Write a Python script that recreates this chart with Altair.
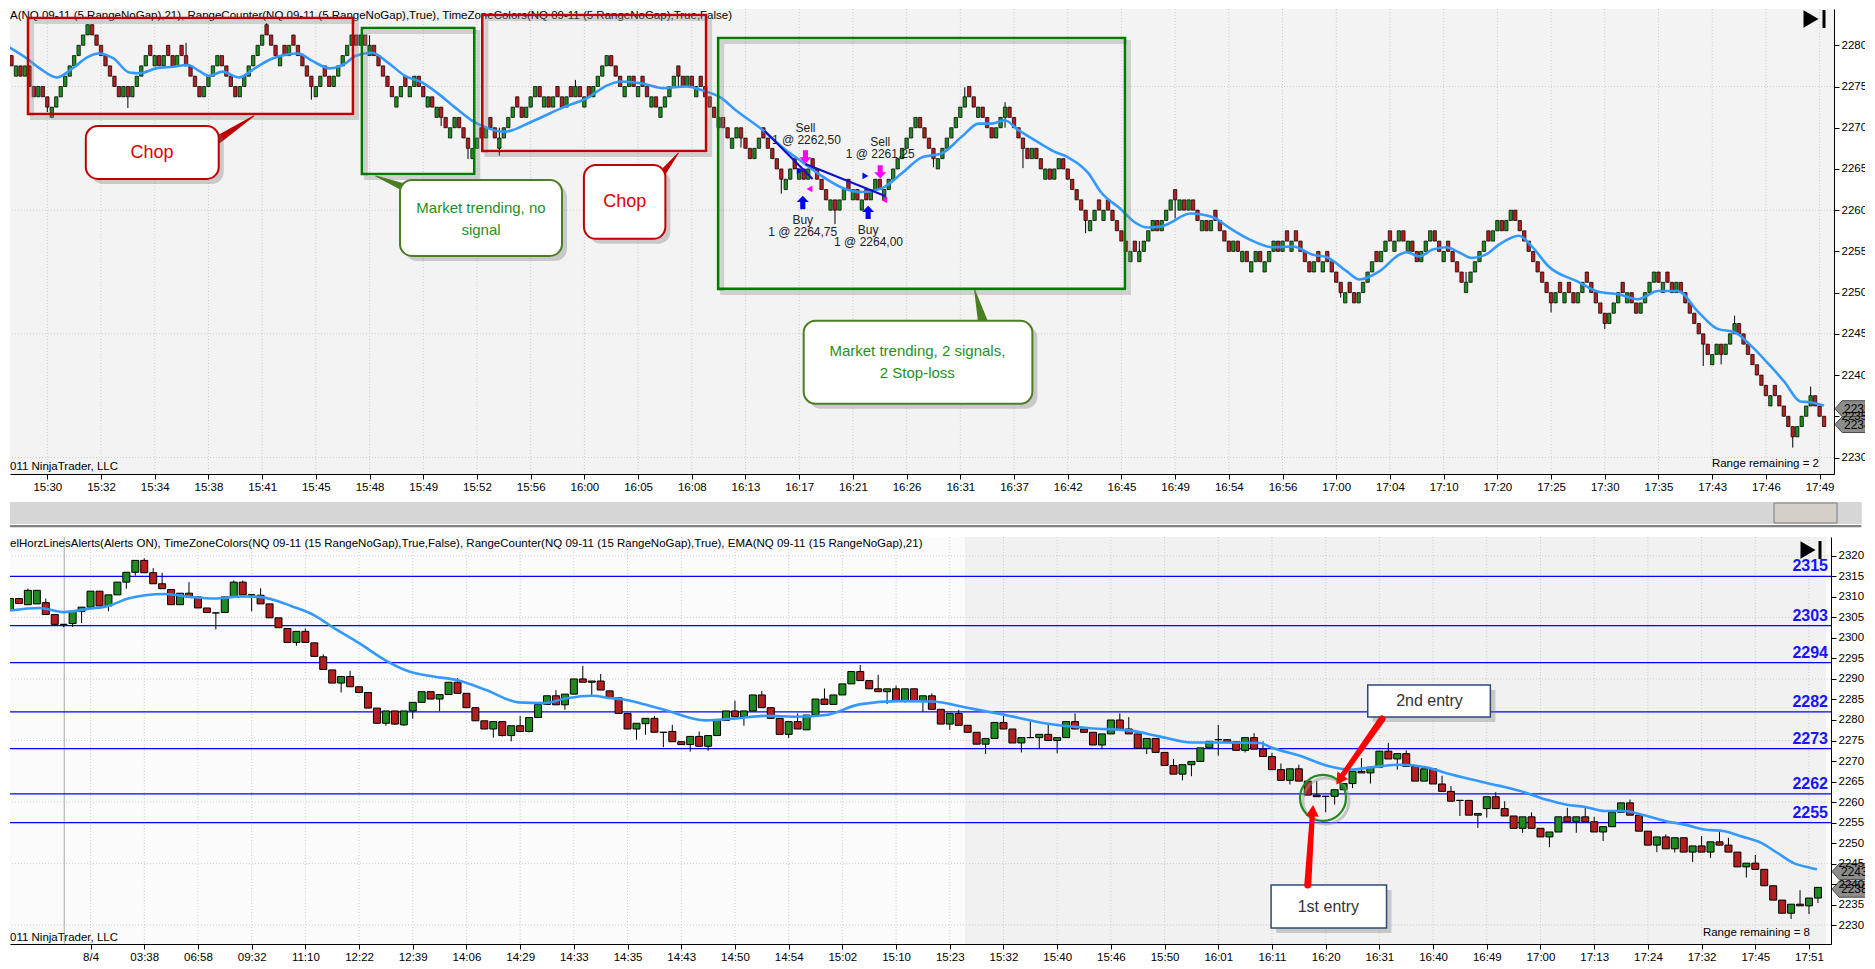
import json
import altair as alt
import pandas as pd

FONT = "Liberation Sans"
GREEN = "#1f8a1f"
RED = "#b41e1e"
EMA_BLUE = "#3399ff"

# ---------------------------------------------------------------- top panel data (5 RangeNoGap)
top_first_open = 2280.0
top_close = [
    2278.75, 2277.5, 2277.5, 2276.25, 2277.5, 2275, 2273.75, 2275, 2273.75, 2272.5,
    2272.5, 2273.75, 2275, 2276.25, 2277.5, 2278.75, 2280, 2281.25, 2282.5, 2281.25,
    2280, 2278.75, 2277.5, 2276.25, 2275, 2273.75, 2275, 2273.75, 2275, 2276.25,
    2277.5, 2278.75, 2278.75, 2278.75, 2277.5, 2278.75, 2278.75, 2277.5, 2278.75, 2278.75,
    2277.5, 2276.25, 2275, 2273.75, 2275, 2276.25, 2277.5, 2278.75, 2277.5, 2276.25,
    2275, 2273.75, 2275, 2276.25, 2277.5, 2278.75, 2280, 2281.25, 2281.25, 2280,
    2278.75, 2278.75, 2278.75, 2280, 2280, 2278.75, 2277.5, 2276.25, 2275, 2275,
    2276.25, 2276.25, 2275, 2276.25, 2277.5, 2278.75, 2280, 2281.25, 2280, 2281.25,
    2280, 2280, 2278.75, 2277.5, 2276.25, 2275, 2273.75, 2273.75, 2275, 2275,
    2275, 2276.25, 2275, 2273.75, 2273.75, 2272.5, 2272.5, 2271.25, 2270, 2270,
    2271.25, 2270, 2268.75, 2267.5, 2267.5, 2268.75, 2268.75, 2270, 2270, 2268.75,
    2268.75, 2270, 2271.25, 2272.5, 2272.5, 2271.25, 2272.5, 2273.75, 2275, 2273.75,
    2273.75, 2272.5, 2273.75, 2273.75, 2272.5, 2273.75, 2273.75, 2275, 2273.75, 2273.75,
    2273.75, 2275, 2276.25, 2277.5, 2278.75, 2277.5, 2276.25, 2275, 2275, 2276.25,
    2275, 2275, 2275, 2273.75, 2273.75, 2272.5, 2272.5, 2273.75, 2275, 2276.25,
    2276.25, 2275, 2276.25, 2275, 2275, 2275, 2273.75, 2272.5, 2271.25, 2271.25,
    2270, 2268.75, 2268.75, 2270, 2268.75, 2267.5, 2266.25, 2267.5, 2268.75, 2268.75,
    2267.5, 2266.25, 2265, 2263.75, 2263.75, 2265, 2265, 2265, 2263.75, 2265,
    2265, 2263.75, 2262.5, 2261.25, 2261.25, 2260, 2261.25, 2262.5, 2262.5, 2262.5,
    2261.25, 2261.25, 2261.25, 2262.5, 2263.75, 2262.5, 2262.5, 2263.75, 2265, 2266.25,
    2267.5, 2268.75, 2270, 2271.25, 2270, 2268.75, 2267.5, 2266.25, 2266.25, 2267.5,
    2268.75, 2270, 2271.25, 2272.5, 2273.75, 2273.75, 2272.5, 2272.5, 2271.25, 2270,
    2268.75, 2270, 2271.25, 2272.5, 2271.25, 2270, 2268.75, 2267.5, 2266.25, 2267.5,
    2266.25, 2265, 2265, 2263.75, 2265, 2266.25, 2265, 2263.75, 2262.5, 2261.25,
    2260, 2258.75, 2258.75, 2260, 2260, 2260, 2260, 2258.75, 2257.5, 2256.25,
    2255, 2255, 2255, 2255, 2256.25, 2257.5, 2258.75, 2257.5, 2258.75, 2260,
    2261.25, 2261.25, 2261.25, 2260, 2261.25, 2260, 2258.75, 2258.75, 2257.5, 2258.75,
    2258.75, 2257.5, 2256.25, 2255, 2256.25, 2255, 2255, 2253.75, 2253.75, 2255,
    2253.75, 2253.75, 2255, 2256.25, 2255, 2256.25, 2256.25, 2256.25, 2256.25, 2255,
    2253.75, 2252.5, 2253.75, 2253.75, 2253.75, 2253.75, 2252.5, 2251.25, 2250, 2250,
    2250, 2248.75, 2250, 2251.25, 2252.5, 2253.75, 2253.75, 2255, 2256.25, 2256.25,
    2256.25, 2257.5, 2256.25, 2256.25, 2255, 2253.75, 2255, 2256.25, 2257.5, 2256.25,
    2255, 2255, 2255, 2253.75, 2252.5, 2251.25, 2251.25, 2252.5, 2253.75, 2255,
    2256.25, 2256.25, 2257.5, 2258.75, 2257.5, 2258.75, 2260, 2258.75, 2257.5, 2256.25,
    2255, 2253.75, 2252.5, 2251.25, 2250, 2248.75, 2250, 2250, 2250, 2250,
    2248.75, 2250, 2251.25, 2251.25, 2250, 2248.75, 2247.5, 2246.25, 2247.5, 2248.75,
    2250, 2250, 2250, 2248.75, 2247.5, 2248.75, 2250, 2251.25, 2252.5, 2251.25,
    2251.25, 2251.25, 2250, 2251.25, 2250, 2248.75, 2247.5, 2246.25, 2245, 2243.75,
    2242.5, 2242.5, 2243.75, 2242.5, 2243.75, 2245, 2246.25, 2245, 2243.75, 2242.5,
    2241.25, 2240, 2238.75, 2237.5, 2237.5, 2237.5, 2236.25, 2235, 2233.75, 2232.5,
    2233.75, 2235, 2236.25, 2237.5, 2236.25, 2235, 2233.75,
]
# (bar, low, high) of the visible shadows
top_wicks = [
    (9, 2271.9, 2273.75), (27, 2272.4, 2275.0), (40, 2277.5, 2280.3), (58, 2281.25, 2282.7),
    (68, 2273.4, 2276.25), (81, 2278.75, 2281.2), (97, 2270.2, 2272.5), (103, 2266.2, 2268.75),
    (110, 2266.6, 2270.0), (127, 2273.75, 2275.8), (150, 2275.0, 2277.3), (164, 2267.6, 2270.0),
    (173, 2262.0, 2265.0), (185, 2258.3, 2261.25), (207, 2265.2, 2267.5), (214, 2272.5, 2274.9),
    (223, 2270.0, 2273.1), (227, 2265.1, 2267.5), (241, 2257.2, 2260.0), (253, 2253.9, 2256.25),
    (261, 2259.0, 2262.0), (298, 2249.4, 2251.25), (326, 2250.1, 2252.5), (345, 2247.6, 2250.0),
    (357, 2245.6, 2247.5), (379, 2241.1, 2245.0), (383, 2241.3, 2243.75), (386, 2245.0, 2247.2),
    (399, 2231.2, 2233.75), (403, 2236.25, 2238.6),
]
# EMA(21): (bar position, value)
top_ema = [
    (0, 2279.9), (4.4, 2278.4), (7.3, 2277.2), (11.1, 2276.1), (14.9, 2277.3), (17.8, 2278.5),
    (20.4, 2279.0), (23.8, 2278.4), (27.3, 2276.7), (29.6, 2276.6), (33.3, 2277.2), (37.1, 2277.4),
    (40.4, 2277.6), (42.9, 2276.9), (45.1, 2276.3), (48.2, 2276.8), (51.8, 2276.1), (55.6, 2277.3),
    (59.3, 2278.4), (65.1, 2279.0), (68.2, 2278.1), (72.2, 2277.2), (75.6, 2277.8), (77.8, 2278.7),
    (81.6, 2279.1), (85.1, 2277.9), (88.9, 2276.3), (92.7, 2275.5), (96.2, 2274.2), (100, 2272.5),
    (103.8, 2270.9), (106.7, 2270.1), (111.1, 2269.5), (117.1, 2270.7), (124.4, 2272.5), (129.6, 2273.6),
    (134, 2275.1), (137.1, 2275.6), (141.6, 2275.4), (146.7, 2274.8), (151.8, 2275.0), (155.6, 2274.5),
    (159.3, 2273.7), (162.9, 2272.1), (168.9, 2269.7), (174, 2267.3), (177.8, 2265.8), (181.6, 2264.3),
    (186.7, 2262.7), (191.1, 2262.2), (195.6, 2262.7), (200, 2264.5), (204.4, 2266.4), (208.9, 2266.9),
    (213.3, 2268.9), (217.1, 2270.5), (220, 2270.5), (222.9, 2270.9), (226, 2269.7), (229.6, 2268.5),
    (234, 2267.1), (237.1, 2266.4), (241.6, 2264.5), (244.4, 2262.2), (248.9, 2260.1), (251.8, 2258.6),
    (254.9, 2257.9), (257.8, 2258.0), (259.3, 2258.3), (264.4, 2259.6), (269.6, 2259.1), (272.7, 2258.0),
    (277.8, 2256.4), (282.9, 2255.5), (287.3, 2255.6), (291.8, 2254.6), (294.9, 2254.3), (299.3, 2252.6),
    (302.2, 2251.6), (306.7, 2252.6), (311.1, 2254.6), (312.7, 2254.9), (315.6, 2254.4), (318.4, 2255.2),
    (321.6, 2255.5), (324.4, 2254.9), (327.3, 2254.2), (330.4, 2254.6), (333.3, 2255.8), (337.8, 2256.9),
    (340.7, 2255.6), (344.4, 2253.2), (351.1, 2251.3), (355.6, 2250.1), (360, 2249.8), (364.4, 2249.2),
    (368.9, 2250.2), (373.3, 2250.2), (377.8, 2247.7), (382.2, 2245.6), (386, 2245.2), (389.6, 2243.6),
    (394, 2241.1), (397.1, 2239.2), (400.7, 2236.8), (402.9, 2236.7), (406, 2236.3),
]
top_time_labels = ["15:30", "15:32", "15:34", "15:38", "15:41", "15:45", "15:48", "15:49", "15:52",
                   "15:56", "16:00", "16:05", "16:08", "16:13", "16:17", "16:21", "16:26", "16:31",
                   "16:37", "16:42", "16:45", "16:49", "16:54", "16:56", "17:00", "17:04", "17:10",
                   "17:20", "17:25", "17:30", "17:35", "17:43", "17:46", "17:49"]
top_grid_levels = [2230, 2245, 2260, 2275]
TOP_TITLE = ("A(NQ 09-11 (5 RangeNoGap),21), RangeCounter(NQ 09-11 (5 RangeNoGap),True), "
             "TimeZoneColors(NQ 09-11 (5 RangeNoGap),True,False)")

# annotation rectangles: bar from/to, price from/to
box_i0 = [4.7, 79.3, 106.2, 158.9]
box_i1 = [77.3, 104.4, 156.2, 249.8]
box_p0 = [2271.67, 2264.39, 2267.18, 2250.45]
box_p1 = [2283.30, 2282.09, 2283.67, 2280.88]
box_col = ["#c00000", "#007a00", "#c00000", "#007a00"]

call_i0 = [17.6, 87.8, 128.9, 178.0]
call_i1 = [47.3, 124.0, 147.1, 229.1]
call_p0 = [2263.79, 2254.45, 2256.52, 2236.52]
call_p1 = [2270.21, 2263.67, 2265.48, 2246.58]
call_col = ["#c00000", "#4b7d23", "#c00000", "#4b7d23"]
call_text = ["Chop", "Market trending, no", "signal", "Chop", "Market trending, 2 signals,", "2 Stop-loss"]
call_text_i = [32.4, 105.9, 105.9, 138.0, 203.4, 203.4]
call_text_p = [2266.94, 2260.3, 2257.6, 2261.0, 2242.9, 2240.2]
call_text_col = ["#e00000", "#1f8f1f", "#1f8f1f", "#e00000", "#1f8f1f", "#1f8f1f"]
call_text_size = [18, 15, 15, 18, 15, 15]
# callout pointers: id, order, bar, price, width
pointers = [
    (0, 0, 46.0, 2268.15, 9), (0, 1, 55.1, 2271.42, 1),
    (1, 0, 90.0, 2262.5, 9), (1, 1, 82.4, 2264.15, 1),
    (2, 0, 145.0, 2263.5, 9), (2, 1, 150.0, 2266.94, 1),
    (3, 0, 218.5, 2245.5, 12), (3, 1, 216.2, 2250.33, 1),
]
pointer_col = ["#c00000", "#4b7d23", "#c00000", "#4b7d23"]

# trades
trade_lines = [(0, 169.3, 2269.61), (0, 180.0, 2263.79), (1, 178.4, 2265.61), (1, 196.2, 2261.73)]
sell_arrows = [(178.4, 2266.45), (195.1, 2264.64)]
buy_arrows = [(177.8, 2260.94), (192.4, 2259.73)]
exit_marks = [(179.3, 2262.58), (196.0, 2261.24)]
entry_marks = [(177.1, 2264.76), (191.8, 2264.15)]
trade_text = ["Sell", "1 @ 2262,50", "Sell", "1 @ 2261,25", "Buy", "1 @ 2264,75", "Buy", "1 @ 2264,00"]
trade_text_i = [178.4, 178.6, 195.1, 195.1, 177.8, 177.8, 192.4, 192.5]
trade_text_p = [2269.97, 2268.52, 2268.27, 2266.82, 2258.82, 2257.36, 2257.61, 2256.15]

# ---------------------------------------------------------------- bottom panel data (15 RangeNoGap)
bot_open = [
    2306.7, 2309.6, 2308.1, 2308.3, 2308.6, 2305.7, 2303.3, 2303.5, 2306.5, 2307.5,
    2311.4, 2307.8, 2310.5, 2313.6, 2316.0, 2318.9, 2315.9, 2313.2, 2311.8, 2308.1,
    2310.9, 2310.0, 2307.3, 2306.1, 2306.2, 2310.0, 2313.6, 2310.5, 2310.4, 2308.3,
    2304.9, 2302.3, 2298.9, 2301.6, 2298.8, 2295.4, 2292.2, 2289.0, 2290.6, 2288.1,
    2286.7, 2282.9, 2279.2, 2282.2, 2278.8, 2282.2, 2284.3, 2286.9, 2285.1, 2286.2,
    2289.2, 2286.5, 2283.0, 2279.8, 2277.8, 2279.6, 2276.2, 2278.6, 2277.2, 2280.6,
    2283.8, 2285.9, 2283.7, 2286.3, 2290.0, 2289.2, 2289.5, 2287.1, 2285.4, 2281.6,
    2277.8, 2279.1, 2280.4, 2277.0, 2277.2, 2274.7, 2274.0, 2276.0, 2273.6, 2276.2,
    2279.9, 2282.2, 2280.8, 2282.2, 2286.1, 2283.0, 2280.4, 2276.5, 2279.6, 2277.6,
    2281.2, 2285.1, 2283.8, 2286.1, 2288.8, 2291.8, 2289.6, 2287.6, 2286.9, 2287.6,
    2284.7, 2287.6, 2284.5, 2285.9, 2282.6, 2279.0, 2281.6, 2278.7, 2277.0, 2274.1,
    2275.5, 2279.4, 2277.8, 2274.4, 2275.7, 2275.7, 2276.5, 2275.0, 2275.7, 2279.6,
    2277.8, 2277.0, 2273.9, 2276.6, 2280.0, 2277.8, 2276.6, 2273.1, 2275.5, 2272.1,
    2268.9, 2266.8, 2269.1, 2269.9, 2273.2, 2275.2, 2275.2, 2274.7, 2272.6, 2275.7,
    2272.9, 2271.1, 2267.9, 2265.3, 2268.1, 2265.1, 2261.7, 2261.4, 2261.4, 2263.0,
    2264.5, 2267.5, 2267.1, 2268.5, 2272.4, 2270.5, 2271.8, 2268.7, 2265.1, 2268.1,
    2264.4, 2262.6, 2260.4, 2260.4, 2256.8, 2258.4, 2261.3, 2258.4, 2256.6, 2253.6,
    2256.4, 2253.6, 2251.5, 2252.7, 2256.4, 2255.2, 2256.4, 2255.2, 2252.7, 2254.0,
    2257.5, 2259.8, 2256.8, 2252.9, 2249.5, 2251.5, 2248.6, 2251.3, 2247.8, 2249.3,
    2247.8, 2250.3, 2249.5, 2247.8, 2244.2, 2245.1, 2243.6, 2239.6, 2236.1, 2232.9,
    2235.1, 2234.7, 2236.6,
]
bot_close = [
    2309.6, 2308.4, 2311.6, 2311.6, 2305.7, 2303.3, 2303.3, 2306.5, 2307.5, 2311.4,
    2307.8, 2310.5, 2313.6, 2316.0, 2318.9, 2315.9, 2313.2, 2312.0, 2308.1, 2310.9,
    2310.0, 2307.3, 2306.2, 2306.1, 2310.0, 2313.6, 2310.5, 2310.5, 2308.3, 2304.9,
    2302.5, 2298.9, 2301.6, 2298.9, 2295.5, 2292.3, 2289.0, 2290.6, 2288.1, 2286.7,
    2282.9, 2279.2, 2282.2, 2279.0, 2282.2, 2284.3, 2286.9, 2285.1, 2286.2, 2289.2,
    2286.5, 2283.0, 2279.8, 2277.8, 2279.6, 2276.2, 2278.6, 2277.2, 2280.6, 2283.8,
    2285.9, 2283.7, 2286.3, 2290.0, 2289.2, 2289.5, 2287.3, 2285.5, 2281.6, 2277.8,
    2279.2, 2280.4, 2277.0, 2277.0, 2274.7, 2274.0, 2276.0, 2273.6, 2276.2, 2279.9,
    2282.2, 2280.8, 2282.2, 2286.1, 2283.0, 2280.4, 2276.5, 2279.6, 2277.8, 2281.2,
    2285.1, 2283.8, 2286.1, 2288.8, 2291.8, 2289.6, 2287.6, 2286.9, 2287.6, 2284.7,
    2287.6, 2284.5, 2285.9, 2282.6, 2279.0, 2281.6, 2278.7, 2277.0, 2274.1, 2275.5,
    2279.4, 2277.8, 2274.4, 2275.7, 2275.7, 2276.5, 2275.0, 2275.7, 2279.6, 2277.8,
    2277.0, 2273.9, 2276.6, 2280.0, 2277.8, 2276.6, 2273.1, 2275.5, 2272.1, 2268.9,
    2266.8, 2269.1, 2269.9, 2273.2, 2274.8, 2275.2, 2274.7, 2272.6, 2275.7, 2272.9,
    2271.1, 2267.9, 2265.3, 2268.1, 2265.1, 2261.7, 2261.3, 2261.4, 2263.0, 2264.5,
    2267.5, 2267.1, 2268.5, 2272.4, 2270.5, 2271.8, 2268.7, 2265.1, 2268.1, 2264.4,
    2262.6, 2260.2, 2260.4, 2256.8, 2257.2, 2261.3, 2258.4, 2256.6, 2253.6, 2256.4,
    2253.6, 2251.5, 2252.7, 2256.4, 2255.2, 2256.4, 2255.2, 2252.7, 2254.0, 2257.5,
    2259.8, 2256.8, 2252.9, 2249.5, 2251.5, 2248.6, 2251.3, 2247.8, 2249.3, 2247.8,
    2250.3, 2249.5, 2247.8, 2244.2, 2245.1, 2243.6, 2239.6, 2236.1, 2232.9, 2235.1,
    2234.7, 2236.6, 2239.2,
]
bot_wicks = [
    (2, 2308.1, 2312.0), (4, 2305.7, 2309.6), (5, 2303.0, 2305.7), (6, 2302.6, 2303.3),
    (7, 2302.7, 2306.5), (8, 2303.6, 2307.5), (11, 2306.5, 2310.5), (13, 2312.0, 2316.0),
    (14, 2315.2, 2318.9), (15, 2315.9, 2319.4), (16, 2313.2, 2317.0), (17, 2312.0, 2315.9),
    (20, 2310.0, 2313.6), (23, 2302.1, 2306.1), (25, 2310.0, 2314.0), (26, 2310.5, 2314.0),
    (27, 2306.5, 2310.5), (28, 2308.3, 2312.1), (32, 2298.1, 2301.6), (33, 2298.9, 2302.3),
    (35, 2292.3, 2296.0), (37, 2286.7, 2290.6), (38, 2288.1, 2292.0), (42, 2278.6, 2282.2),
    (43, 2278.8, 2282.2), (44, 2278.6, 2282.2), (45, 2280.3, 2284.3), (48, 2282.2, 2286.2),
    (50, 2286.5, 2290.2), (54, 2275.7, 2279.6), (55, 2276.0, 2279.6), (56, 2274.8, 2278.6),
    (57, 2277.2, 2281.0), (58, 2277.0, 2280.6), (61, 2283.7, 2287.3), (62, 2282.5, 2286.3),
    (64, 2289.2, 2293.2), (65, 2286.1, 2289.5), (66, 2287.3, 2291.2), (70, 2275.2, 2279.2),
    (71, 2276.4, 2280.4), (72, 2277.0, 2281.0), (73, 2273.4, 2277.0), (74, 2274.7, 2278.8),
    (76, 2272.3, 2276.0), (77, 2273.6, 2277.2), (78, 2272.5, 2276.2), (81, 2280.8, 2284.7),
    (82, 2278.6, 2282.2), (84, 2283.0, 2287.1), (87, 2275.6, 2279.6), (88, 2277.8, 2281.6),
    (91, 2283.8, 2287.7), (95, 2289.6, 2293.4), (97, 2286.9, 2291.0), (98, 2283.9, 2287.6),
    (99, 2284.7, 2288.4), (100, 2284.2, 2287.6), (102, 2282.0, 2285.9), (103, 2282.6, 2286.5),
    (105, 2277.6, 2281.6), (106, 2278.7, 2282.5), (109, 2271.7, 2275.5), (111, 2277.8, 2281.6),
    (113, 2272.1, 2275.7), (114, 2275.7, 2279.6), (115, 2272.9, 2276.5), (116, 2275.0, 2279.2),
    (117, 2271.9, 2275.7), (119, 2277.8, 2281.6), (122, 2272.9, 2276.6), (124, 2277.8, 2281.6),
    (125, 2276.6, 2280.7), (127, 2271.7, 2275.5), (130, 2266.8, 2270.5), (131, 2265.3, 2269.1),
    (132, 2266.3, 2269.9), (134, 2272.9, 2274.8), (135, 2271.3, 2278.8), (138, 2272.1, 2275.7),
    (139, 2272.9, 2276.8), (140, 2271.1, 2274.8), (141, 2267.9, 2272.0), (142, 2265.3, 2269.4),
    (143, 2264.3, 2268.1), (144, 2265.1, 2269.1), (146, 2261.3, 2265.1), (147, 2257.5, 2261.4),
    (148, 2259.4, 2263.0), (150, 2263.4, 2267.5), (151, 2267.1, 2270.7), (152, 2264.5, 2268.5),
    (154, 2270.5, 2274.4), (155, 2267.9, 2271.8), (156, 2268.7, 2272.6), (160, 2262.6, 2266.4),
    (161, 2260.2, 2263.9), (162, 2256.6, 2260.4), (164, 2253.7, 2257.2), (165, 2256.2, 2261.3),
    (166, 2258.4, 2262.4), (167, 2256.6, 2260.2), (169, 2252.5, 2256.4), (170, 2253.6, 2257.5),
    (172, 2249.0, 2252.7), (174, 2255.2, 2258.6), (175, 2252.5, 2256.4), (176, 2255.2, 2258.6),
    (177, 2252.7, 2256.4), (178, 2250.5, 2254.0), (181, 2256.8, 2260.6), (184, 2247.8, 2251.5),
    (185, 2248.6, 2252.1), (186, 2247.7, 2251.3), (188, 2245.4, 2249.3), (189, 2247.8, 2251.7),
    (190, 2246.4, 2250.3), (191, 2249.5, 2253.2), (192, 2247.8, 2251.3), (194, 2241.6, 2245.1),
    (195, 2243.6, 2247.1), (199, 2231.5, 2235.1), (200, 2234.7, 2238.5), (201, 2232.7, 2236.6),
    (202, 2235.4, 2239.2),
]
bot_ema = [
    (0, 2306.7), (3.3, 2307.3), (6, 2306.3), (8.8, 2307.1), (11, 2307.8), (13.2, 2309.6),
    (15.1, 2310.4), (17.3, 2310.7), (20.1, 2310.0), (22.8, 2309.6), (26, 2310.1), (27.8, 2310.0),
    (29.6, 2309.2), (31.4, 2307.8), (34.1, 2305.4), (36, 2302.7), (39.1, 2298.6), (41.9, 2294.6),
    (44.6, 2291.8), (47.3, 2290.6), (50, 2289.7), (53.2, 2287.3), (56.8, 2284.3), (59.6, 2284.1),
    (62.2, 2285.3), (65, 2285.9), (67.2, 2285.3), (68.6, 2285.0), (70.4, 2284.1), (73.1, 2282.5),
    (77.7, 2279.9), (81.2, 2280.4), (84.4, 2281.0), (88.1, 2280.8), (91.2, 2281.2), (94.9, 2283.8),
    (99.4, 2284.6), (103, 2284.5), (107.1, 2282.9), (110.8, 2281.4), (116.2, 2279.0), (120.7, 2278.0),
    (125.2, 2277.4), (128.4, 2276.0), (132, 2274.5), (135.7, 2274.5), (139.7, 2274.4), (140.8, 2273.4),
    (144.1, 2271.3), (147.4, 2268.7), (149.7, 2267.9), (153, 2268.7), (155.2, 2269.1), (158.2, 2268.5),
    (160.4, 2267.1), (163.3, 2265.5), (166.3, 2264.0), (168.9, 2262.6), (171.6, 2260.6), (173.8, 2259.4),
    (176, 2258.8), (178.2, 2257.8), (180.4, 2257.8), (182.7, 2256.7), (184.9, 2255.4), (187.1, 2254.5),
    (189.3, 2253.3), (191.6, 2252.9), (193.3, 2251.7), (195.6, 2250.1), (197.4, 2247.7), (199.3, 2245.1),
    (201.1, 2244.0), (201.9, 2243.6),
]
bot_time_labels = ["8/4", "03:38", "06:58", "09:32", "11:10", "12:22", "12:39", "14:06", "14:29",
                   "14:33", "14:35", "14:43", "14:50", "14:54", "15:02", "15:10", "15:23", "15:32",
                   "15:40", "15:46", "15:50", "16:01", "16:11", "16:20", "16:31", "16:40", "16:49",
                   "17:00", "17:13", "17:24", "17:32", "17:45", "17:51"]
bot_grid_levels = [2230, 2245, 2260, 2275, 2290, 2305, 2320]
bot_levels = [2315, 2303, 2294, 2282, 2273, 2262, 2255]
bot_session_break = [6.06]
bot_zone_start = [106.7]
BOT_TITLE = ("elHorzLinesAlerts(Alerts ON), TimeZoneColors(NQ 09-11 (15 RangeNoGap),True,False), "
             "RangeCounter(NQ 09-11 (15 RangeNoGap),True), EMA(NQ 09-11 (15 RangeNoGap),21)")
entry_circle = [(146.7, 2261.0)]
entry_box_i0 = [151.7, 140.9]
entry_box_i1 = [165.4, 153.8]
entry_box_p0 = [2280.73, 2229.27]
entry_box_p1 = [2288.54, 2239.76]
entry_text = ["2nd entry", "1st entry"]
entry_text_i = [158.6, 147.3]
entry_text_p = [2284.63, 2234.39]
entry_arrows = [(0, 0, 153.3, 2280.24, 7), (0, 1, 148.9, 2266.6, 5),
                (1, 0, 145.0, 2239.76, 7), (1, 1, 145.5, 2256.6, 5)]
entry_heads = [(148.55, 2265.4, 215), (145.55, 2257.9, 4)]

# ---------------------------------------------------------------- layout
W_T, H_T = 1824, 465
W_B, H_B = 1821, 407
W_S = 1851
XT, YT = [1.78, 407.1], [2228.0, 2284.4]
XB, YB = [0.56, 202.9], [2225.4, 2324.6]
one = pd.DataFrame({"z": [0]})


def candles(opens, closes, wicks):
    wl = {k: (lo, hi) for k, lo, hi in wicks}
    rows = []
    for k, (o, c) in enumerate(zip(opens, closes)):
        lo, hi = min(o, c), max(o, c)
        if k in wl:
            lo, hi = min(lo, wl[k][0]), max(hi, wl[k][1])
        d = "up" if c > o else ("down" if c < o else "flat")
        rows.append({"i": k, "o": o, "c": c, "lo": lo, "hi": hi, "d": d})
    return pd.DataFrame(rows)


# range bars: open at the previous close; a repeated close is drawn as a reversal bar
top_open = []
prev, last = top_first_open, -1
for c in top_close:
    if c == prev:
        o = c + 1.25 if last > 0 else c - 1.25
    else:
        o = prev
    last = 1 if c > o else -1
    top_open.append(o)
    prev = c

top_df = candles(top_open, top_close, top_wicks)
bot_df = candles(bot_open, bot_close, bot_wicks)


def x_axis(labels, first, step):
    vals = [first + step * k for k in range(len(labels))]
    expr = f"{json.dumps(labels)}[round((datum.value - {first}) / {step})]"
    return alt.Axis(values=vals, labelExpr=expr, title=None, grid=False, tickSize=5, labelPadding=2,
                    labelFontSize=11.5, labelFont=FONT, labelColor="black", domainColor="black",
                    tickColor="black", labelAngle=0, labelOverlap=False, labelFlush=False, zindex=1)


def y_axis(lo, hi):
    return alt.Axis(orient="right", values=list(range(lo, hi + 1, 5)),
                    labelExpr="replace(format(datum.value, '.2f'), '.', ',')", title=None, grid=False,
                    tickSize=5, labelPadding=2, labelFontSize=11.5, labelFont=FONT, labelColor="black",
                    domainColor="black", tickColor="black", labelOverlap=False, zindex=1)


def txt(t, x, y, **kw):
    return alt.Chart(pd.DataFrame({"t": [t]})).mark_text(font=FONT, **kw).encode(
        x=alt.value(x), y=alt.value(y), text="t:N")


DOWN_ARROW = "M-0.38,-1L0.38,-1L0.38,0.05L0.9,0.05L0,1L-0.9,0.05L-0.38,0.05Z"
UP_ARROW = "M-0.38,1L0.38,1L0.38,-0.05L0.9,-0.05L0,-1L-0.9,-0.05L-0.38,-0.05Z"
TAG = "M0,0L0.45,-0.5L4.2,-0.5L4.2,0.5L0.45,0.5Z"
CANDLE_COLORS = alt.Scale(domain=["up", "down", "flat"], range=[GREEN, RED, "black"])

# ================================================================= TOP PANEL
xs_t = alt.Scale(domain=XT, nice=False, zero=False)
ys_t = alt.Scale(domain=YT, nice=False, zero=False)
xax_t = x_axis(top_time_labels, 9, 12)
yax_t = y_axis(2230, 2280)


def xt(f):
    return alt.X(f, type="quantitative", scale=xs_t, axis=xax_t)


def yt(f):
    return alt.Y(f, type="quantitative", scale=ys_t, axis=yax_t)


top_ticks = [9 + 12 * k for k in range(len(top_time_labels))]
bg_t = alt.Chart(one).mark_rect(color="#f3f3f3").encode(
    x=alt.value(0), x2=alt.value(W_T), y=alt.value(0), y2=alt.value(H_T))
vgrid_t = alt.Chart(pd.DataFrame({"g": top_ticks})).mark_rule(
    color="#cdcdcd", strokeDash=[1, 2]).encode(x=xt("g"))
hgrid_t = alt.Chart(pd.DataFrame({"g": top_grid_levels})).mark_rule(
    color="#cdcdcd", strokeDash=[1, 2]).encode(y=yt("g"))
title_t = txt(TOP_TITLE, 0, 1, align="left", baseline="top", fontSize=11.5, color="black")
wick_t = alt.Chart(top_df).mark_rule(color="black", strokeWidth=1, clip=True).encode(
    x=xt("i"), y=yt("lo"), y2=alt.Y2("hi"))
body_t = alt.Chart(top_df).mark_bar(size=3.4, stroke="black", strokeWidth=0.7, clip=True).encode(
    x=xt("i"), y=yt("o"), y2=alt.Y2("c"), color=alt.Color("d:N", scale=CANDLE_COLORS, legend=None))
ema_t = alt.Chart(pd.DataFrame(top_ema, columns=["i", "v"])).mark_line(
    color=EMA_BLUE, strokeWidth=2.6, interpolate="monotone", clip=True).encode(x=xt("i"), y=yt("v"))

boxes = pd.DataFrame({"i0": box_i0, "i1": box_i1, "p0": box_p0, "p1": box_p1, "col": box_col})
box_shadow = alt.Chart(boxes).mark_rect(fillOpacity=0, stroke="#8c8c8c", strokeOpacity=0.35, strokeWidth=4,
                                        xOffset=4, x2Offset=4, yOffset=4, y2Offset=4).encode(
    x=xt("i0"), x2=alt.X2("i1"), y=yt("p0"), y2=alt.Y2("p1"))
box_rect = alt.Chart(boxes).mark_rect(fillOpacity=0, strokeWidth=2.6).encode(
    x=xt("i0"), x2=alt.X2("i1"), y=yt("p0"), y2=alt.Y2("p1"), stroke=alt.Stroke("col:N", scale=None))

tl = pd.DataFrame(trade_lines, columns=["id", "i", "p"])
trade_line = alt.Chart(tl).mark_line(color="#1010c8", strokeWidth=2.2).encode(
    x=xt("i"), y=yt("p"), detail="id:N")
sell = alt.Chart(pd.DataFrame(sell_arrows, columns=["i", "p"])).mark_point(
    shape=DOWN_ARROW, size=180, filled=True, color="#ff00ff", opacity=1).encode(x=xt("i"), y=yt("p"))
buy = alt.Chart(pd.DataFrame(buy_arrows, columns=["i", "p"])).mark_point(
    shape=UP_ARROW, size=180, filled=True, color="#0000ff", opacity=1).encode(x=xt("i"), y=yt("p"))
exits = alt.Chart(pd.DataFrame(exit_marks, columns=["i", "p"])).mark_point(
    shape="triangle-left", size=45, filled=True, color="#ff00ff", opacity=1).encode(x=xt("i"), y=yt("p"))
entries = alt.Chart(pd.DataFrame(entry_marks, columns=["i", "p"])).mark_point(
    shape="triangle-right", size=45, filled=True, color="#0000ff", opacity=1).encode(x=xt("i"), y=yt("p"))
trade_txt = alt.Chart(pd.DataFrame({"t": trade_text, "i": trade_text_i, "p": trade_text_p})).mark_text(
    font=FONT, fontSize=12, color="#222222", align="center", baseline="middle").encode(
    x=xt("i"), y=yt("p"), text="t:N")

ptr = pd.DataFrame(pointers, columns=["id", "k", "i", "p", "s"])
ptr["col"] = [pointer_col[r] for r in ptr["id"]]
pointer = alt.Chart(ptr).mark_trail().encode(
    x=xt("i"), y=yt("p"), size=alt.Size("s:Q", scale=None, legend=None), detail="id:N", order="k:Q",
    color=alt.Color("col:N", scale=None))
calls = pd.DataFrame({"i0": call_i0, "i1": call_i1, "p0": call_p0, "p1": call_p1, "col": call_col})
call_shadow = alt.Chart(calls).mark_rect(cornerRadius=12, color="#7a7a7a", opacity=0.35,
                                         xOffset=5, x2Offset=5, yOffset=5, y2Offset=5).encode(
    x=xt("i0"), x2=alt.X2("i1"), y=yt("p0"), y2=alt.Y2("p1"))
call_rect = alt.Chart(calls).mark_rect(cornerRadius=12, fill="white", strokeWidth=2).encode(
    x=xt("i0"), x2=alt.X2("i1"), y=yt("p0"), y2=alt.Y2("p1"), stroke=alt.Stroke("col:N", scale=None))
call_txt = alt.Chart(pd.DataFrame({"t": call_text, "i": call_text_i, "p": call_text_p,
                                   "col": call_text_col, "fs": call_text_size})).mark_text(
    font=FONT, align="center", baseline="middle").encode(
    x=xt("i"), y=yt("p"), text="t:N", color=alt.Color("col:N", scale=None),
    size=alt.Size("fs:Q", scale=None, legend=None))

range_t = txt("Range remaining = 2", W_T - 15, 455, align="right", baseline="middle", fontSize=11.5,
              color="black")
copy_t = txt("011 NinjaTrader, LLC", 0, 458, align="left", baseline="middle", fontSize=11.5, color="black")
icon_tri_t = alt.Chart(one).mark_point(shape="triangle-right", filled=True, color="black", size=300,
                                       opacity=1).encode(x=alt.value(W_T - 23), y=alt.value(10))
icon_bar_t = alt.Chart(one).mark_rule(color="black", strokeWidth=3).encode(
    x=alt.value(W_T - 10), y=alt.value(1), y2=alt.value(19))
tags_t = pd.DataFrame({"p": [2235.92, 2234.0], "t": ["2235,92", "2234,00"]})
tag_t = alt.Chart(tags_t).mark_point(shape=TAG, size=1024, filled=True, fill="#8c8c8c", stroke="#4a4a4a",
                                     strokeWidth=1, opacity=1).encode(x=alt.value(W_T + 1), y=yt("p"))
tagtxt_t = alt.Chart(tags_t).mark_text(font=FONT, fontSize=12, align="left", baseline="middle",
                                       color="black").encode(x=alt.value(W_T + 10), y=yt("p"), text="t:N")

top = alt.layer(
    bg_t, vgrid_t, hgrid_t, title_t, wick_t, body_t, ema_t,
    box_shadow, box_rect, trade_line, sell, buy, exits, entries, trade_txt,
    pointer, call_shadow, call_rect, call_txt,
    range_t, copy_t, icon_tri_t, icon_bar_t, tag_t, tagtxt_t,
).properties(width=W_T, height=H_T)

# ================================================================= SCROLL BAR
scroll = alt.layer(
    alt.Chart(one).mark_rect(color="#d6d6d6").encode(
        x=alt.value(0), x2=alt.value(W_S), y=alt.value(0), y2=alt.value(22)),
    alt.Chart(one).mark_rect(color="#d4d0c8", stroke="#7a7a7a", strokeWidth=1).encode(
        x=alt.value(1764), x2=alt.value(1827), y=alt.value(1), y2=alt.value(21)),
    alt.Chart(one).mark_rule(color="#808080", strokeWidth=2).encode(
        x=alt.value(0), x2=alt.value(W_S), y=alt.value(24)),
).properties(width=W_S, height=25)

# ================================================================= BOTTOM PANEL
xs_b = alt.Scale(domain=XB, nice=False, zero=False)
ys_b = alt.Scale(domain=YB, nice=False, zero=False)
xax_b = x_axis(bot_time_labels, 9, 6)
yax_b = y_axis(2230, 2320)


def xb(f):
    return alt.X(f, type="quantitative", scale=xs_b, axis=xax_b)


def yb(f):
    return alt.Y(f, type="quantitative", scale=ys_b, axis=yax_b)


bot_ticks = [9 + 6 * k for k in range(len(bot_time_labels))]
bg_b = alt.Chart(one).mark_rect(color="#fbfbfb").encode(
    x=alt.value(0), x2=alt.value(W_B), y=alt.value(0), y2=alt.value(H_B))
zone_b = alt.Chart(pd.DataFrame({"a": bot_zone_start, "b": [XB[1]]})).mark_rect(color="#f1f1f1").encode(
    x=xb("a"), x2=alt.X2("b"), y=alt.value(0), y2=alt.value(H_B))
vgrid_b = alt.Chart(pd.DataFrame({"g": bot_ticks})).mark_rule(
    color="#cdcdcd", strokeDash=[1, 2]).encode(x=xb("g"))
hgrid_b = alt.Chart(pd.DataFrame({"g": bot_grid_levels})).mark_rule(
    color="#cdcdcd", strokeDash=[1, 2]).encode(y=yb("g"))
sess_b = alt.Chart(pd.DataFrame({"g": bot_session_break})).mark_rule(color="#a8a8a8", strokeWidth=1).encode(
    x=xb("g"))
lev = pd.DataFrame({"p": bot_levels, "t": [str(v) for v in bot_levels]})
lev_line = alt.Chart(lev).mark_rule(color="#0000ff", strokeWidth=1.3).encode(y=yb("p"))
lev_txt = alt.Chart(lev).mark_text(font=FONT, fontSize=16, fontWeight="bold", color="#1515ff",
                                   align="right", baseline="bottom", dy=-2).encode(
    x=alt.value(W_B - 3), y=yb("p"), text="t:N")
title_b = txt(BOT_TITLE, 0, 1, align="left", baseline="top", fontSize=11.5, color="black")
wick_b = alt.Chart(bot_df).mark_rule(color="black", strokeWidth=1, clip=True).encode(
    x=xb("i"), y=yb("lo"), y2=alt.Y2("hi"))
body_b = alt.Chart(bot_df).mark_bar(size=7, stroke="black", strokeWidth=1, clip=True).encode(
    x=xb("i"), y=yb("o"), y2=alt.Y2("c"), color=alt.Color("d:N", scale=CANDLE_COLORS, legend=None))
ema_b = alt.Chart(pd.DataFrame(bot_ema, columns=["i", "v"])).mark_line(
    color=EMA_BLUE, strokeWidth=2.6, interpolate="monotone", clip=True).encode(x=xb("i"), y=yb("v"))

circ = pd.DataFrame(entry_circle, columns=["i", "p"])
circ_shadow = alt.Chart(circ).mark_point(shape="circle", size=2116, filled=False, color="#9a9a9a",
                                         strokeWidth=3, opacity=0.5, xOffset=3, yOffset=3).encode(
    x=xb("i"), y=yb("p"))
circ_mark = alt.Chart(circ).mark_point(shape="circle", size=2116, filled=False, color="#1e8c1e",
                                       strokeWidth=2.2, opacity=1).encode(x=xb("i"), y=yb("p"))
eb = pd.DataFrame({"i0": entry_box_i0, "i1": entry_box_i1, "p0": entry_box_p0, "p1": entry_box_p1})
eb_shadow = alt.Chart(eb).mark_rect(color="#7a7a7a", opacity=0.35, xOffset=5, x2Offset=5,
                                    yOffset=5, y2Offset=5).encode(
    x=xb("i0"), x2=alt.X2("i1"), y=yb("p0"), y2=alt.Y2("p1"))
eb_rect = alt.Chart(eb).mark_rect(fill="white", stroke="#2b4a7a", strokeWidth=1.5).encode(
    x=xb("i0"), x2=alt.X2("i1"), y=yb("p0"), y2=alt.Y2("p1"))
eb_txt = alt.Chart(pd.DataFrame({"t": entry_text, "i": entry_text_i, "p": entry_text_p})).mark_text(
    font=FONT, fontSize=16, color="#333333", align="center", baseline="middle").encode(
    x=xb("i"), y=yb("p"), text="t:N")
ea = pd.DataFrame(entry_arrows, columns=["id", "k", "i", "p", "s"])
ea_line = alt.Chart(ea).mark_trail(color="#ff0000").encode(
    x=xb("i"), y=yb("p"), size=alt.Size("s:Q", scale=None, legend=None), detail="id:N", order="k:Q")
ea_head = alt.Chart(pd.DataFrame(entry_heads, columns=["i", "p", "a"])).mark_point(
    shape="triangle-up", size=170, filled=True, color="#ff0000", opacity=1).encode(
    x=xb("i"), y=yb("p"), angle=alt.Angle("a:Q", scale=None))

range_b = txt("Range remaining = 8", W_B - 21, 396, align="right", baseline="middle", fontSize=11.5,
              color="black")
copy_b = txt("011 NinjaTrader, LLC", 0, H_B - 6, align="left", baseline="middle", fontSize=11.5,
             color="black")
icon_tri_b = alt.Chart(one).mark_point(shape="triangle-right", filled=True, color="black", size=300,
                                       opacity=1).encode(x=alt.value(W_B - 23), y=alt.value(13))
icon_bar_b = alt.Chart(one).mark_rule(color="black", strokeWidth=3).encode(
    x=alt.value(W_B - 11), y=alt.value(4), y2=alt.value(22))
tags_b = pd.DataFrame({"p": [2243.05, 2238.75], "t": ["2243,05", "2238,75"]})
tag_b = alt.Chart(tags_b).mark_point(shape=TAG, size=1024, filled=True, fill="#8c8c8c", stroke="#4a4a4a",
                                     strokeWidth=1, opacity=1).encode(x=alt.value(W_B + 1), y=yb("p"))
tagtxt_b = alt.Chart(tags_b).mark_text(font=FONT, fontSize=12, align="left", baseline="middle",
                                       color="black").encode(x=alt.value(W_B + 10), y=yb("p"), text="t:N")

bottom = alt.layer(
    bg_b, zone_b, vgrid_b, hgrid_b, sess_b, lev_line, lev_txt, title_b, wick_b, body_b, ema_b,
    circ_shadow, circ_mark, eb_shadow, eb_rect, eb_txt, ea_line, ea_head,
    range_b, copy_b, icon_tri_b, icon_bar_b, tag_b, tagtxt_b,
).properties(width=W_B, height=H_B)

chart = alt.vconcat(top, scroll, bottom, spacing=8).properties(
    padding={"left": 0, "top": 0, "right": -40, "bottom": 0}, background="white"
).configure_view(stroke=None).configure(font=FONT)

chart.save("out.html", embed_options={"renderer": "svg", "actions": False})
